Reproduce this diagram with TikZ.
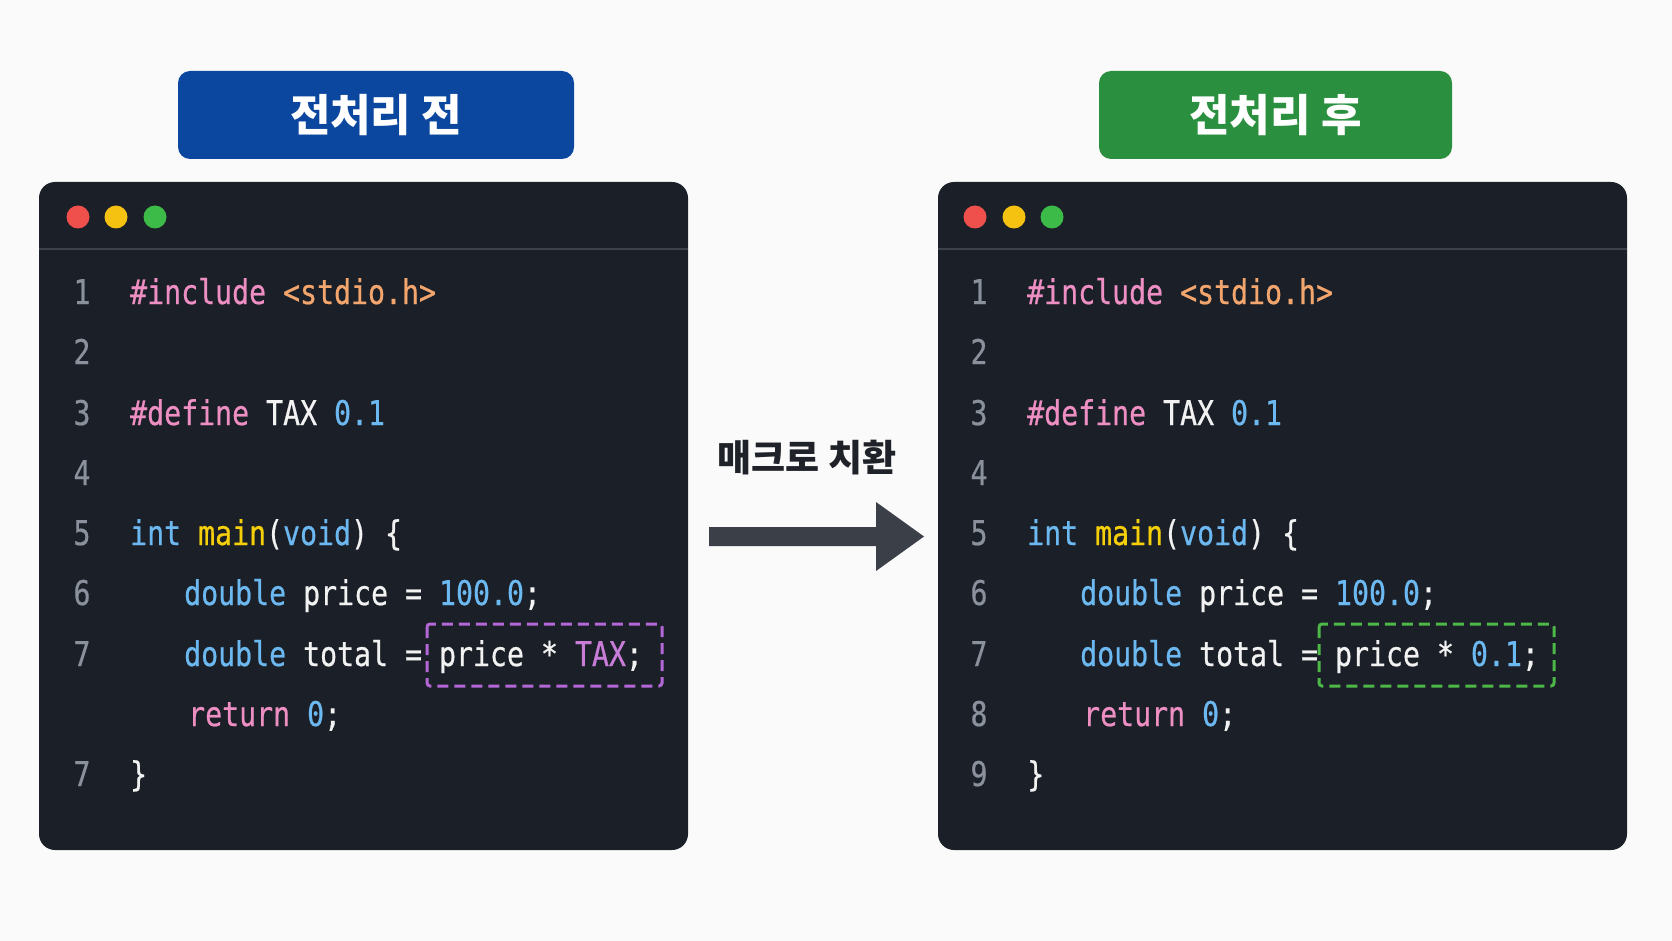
\documentclass[tikz,border=0pt]{standalone}
\usepackage{fontspec}
\newfontfamily\codefont[FakeStretch=0.83,FakeBold=0.6]{DejaVu Sans Mono}
\newfontfamily\kofont{Noto Sans CJK KR}
\definecolor{bgwhite}{HTML}{FAFAFA}
\definecolor{panelbg}{HTML}{1B1F27}
\definecolor{rulegray}{HTML}{3C424C}
\definecolor{dotred}{HTML}{F0504C}
\definecolor{dotyellow}{HTML}{F5C211}
\definecolor{dotgreen}{HTML}{3DBB48}
\definecolor{hdrblue}{HTML}{0B479E}
\definecolor{hdrgreen}{HTML}{2A8F3F}
\definecolor{lngray}{HTML}{8A919C}
\definecolor{codewhite}{HTML}{F2F2F2}
\definecolor{kwpink}{HTML}{EE8FC4}
\definecolor{strorange}{HTML}{F2A66E}
\definecolor{numblue}{HTML}{6CB8F0}
\definecolor{fnyellow}{HTML}{F5CF0A}
\definecolor{taxpurple}{HTML}{C77DD8}
\definecolor{boxpurple}{HTML}{B468D8}
\definecolor{boxgreen}{HTML}{4DB848}
\definecolor{arrowgray}{HTML}{3A3F48}
\definecolor{labeldark}{HTML}{1F2329}

\begin{document}
\begin{tikzpicture}[x=1pt,y=-1pt,
  code/.style={anchor=base west,inner sep=0pt,text=codewhite,font=\codefont\fontsize{34}{40}\selectfont},
  lnum/.style={anchor=base,inner sep=0pt,text=lngray,font=\codefont\fontsize{34}{40}\selectfont},
  hdr/.style={rounded corners=12pt,minimum height=88pt,text=white,font=\kofont\bfseries\fontsize{44}{50}\selectfont},
  hlbox/.style={dash pattern=on 11pt off 6pt,line width=3pt,rounded corners=3pt}]
\fill [bgwhite] (0,0) rectangle (1672,941);

% titles
\node [hdr, fill=hdrblue, minimum width=396pt] (hdrbefore) at (376,115) {전처리 전};
\node [hdr, fill=hdrgreen, minimum width=353pt] (hdrafter) at (1275.5,115) {전처리 후};

% windows
\fill [panelbg, rounded corners=16pt] (39,182) rectangle (688,850);
\fill [panelbg, rounded corners=16pt] (938,182) rectangle (1627,850);
\draw [rulegray, line width=1.5pt] (39,249) -- (688,249);
\draw [rulegray, line width=1.5pt] (938,249) -- (1627,249);
\foreach \x/\c in {78/dotred,116/dotyellow,155/dotgreen} \fill [\c] (\x,217) circle (11.5);
\foreach \x/\c in {975/dotred,1014/dotyellow,1052/dotgreen} \fill [\c] (\x,217) circle (11.5);

% line numbers
\foreach \n/\y in {1/304,2/364,3/425,4/485,5/545,6/605,7/666,9/786}
  \node [lnum] (lnL\n) at (82,\y) {\ifnum\n=9 7\else\n\fi};
\foreach \n/\y in {1/304,2/364,3/425,4/485,5/545,6/605,7/666,8/726,9/786}
  \node [lnum] (lnR\n) at (979,\y) {\n};

% code before
\node [code] (cL1) at (130,304) {\textcolor{kwpink}{\#include} \textcolor{strorange}{<stdio.h>}};
\node [code] (cL3) at (130,425) {\textcolor{kwpink}{\#define} TAX \textcolor{numblue}{0.1}};
\node [code] (cL5) at (130,545) {\textcolor{numblue}{int} \textcolor{fnyellow}{main}(\textcolor{numblue}{void}) \{};
\node [code] (cL6) at (184,605) {\textcolor{numblue}{double} price = \textcolor{numblue}{100.0};};
\node [code] (cL7) at (184,666) {\textcolor{numblue}{double} total = price * \textcolor{taxpurple}{TAX};};
\node [code] (cL8) at (188,726) {\textcolor{kwpink}{return} \textcolor{numblue}{0};};
\node [code] (cL9) at (130,786) {\}};
\draw [hlbox, boxpurple] (427,624) rectangle (662,686);

% code after
\node [code] (cR1) at (1027,304) {\textcolor{kwpink}{\#include} \textcolor{strorange}{<stdio.h>}};
\node [code] (cR3) at (1027,425) {\textcolor{kwpink}{\#define} TAX \textcolor{numblue}{0.1}};
\node [code] (cR5) at (1027,545) {\textcolor{numblue}{int} \textcolor{fnyellow}{main}(\textcolor{numblue}{void}) \{};
\node [code] (cR6) at (1080,605) {\textcolor{numblue}{double} price = \textcolor{numblue}{100.0};};
\node [code] (cR7) at (1080,666) {\textcolor{numblue}{double} total = price * \textcolor{numblue}{0.1};};
\node [code] (cR8) at (1083,726) {\textcolor{kwpink}{return} \textcolor{numblue}{0};};
\node [code] (cR9) at (1027,786) {\}};
\draw [hlbox, boxgreen] (1319,624) rectangle (1554,686);

% arrow
\node [text=labeldark, font=\kofont\bfseries\fontsize{37}{43}\selectfont] (subst) at (807,458) {매크로 치환};
\fill [arrowgray] (709,527) -- (876,527) -- (876,502) -- (924,536.5) -- (876,571) -- (876,546) -- (709,546) -- cycle;
\end{tikzpicture}
\end{document}
